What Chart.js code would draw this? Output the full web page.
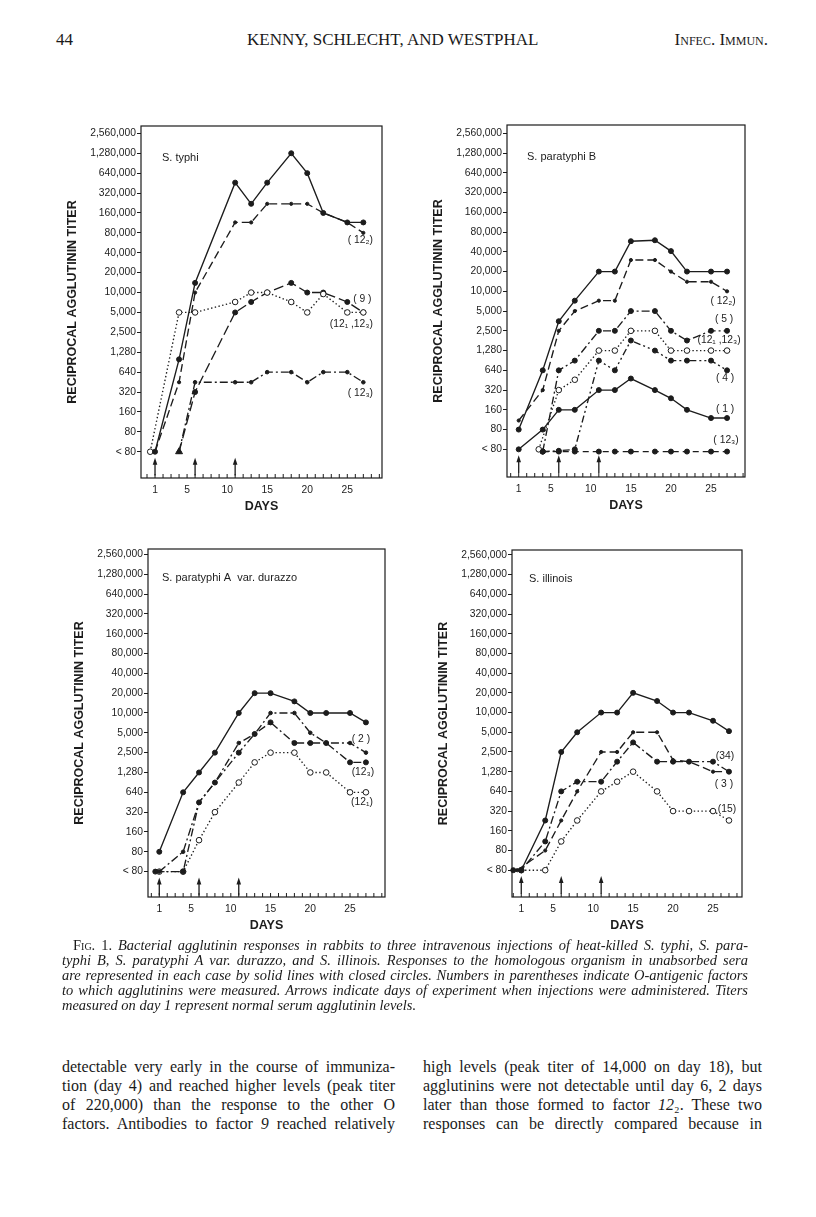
<!DOCTYPE html>
<html>
<head>
<meta charset="utf-8">
<script src="https://cdn.jsdelivr.net/npm/chart.js@4.4.1/dist/chart.umd.min.js"></script>
<style>
  html, body { margin: 0; padding: 0; background: #fff; }
  #page { position: relative; width: 816px; height: 1217px; overflow: hidden; background: #fff; color: #1a1a1a; }
  canvas { position: absolute; }
  .hdr { position: absolute; font-family: "Liberation Serif", "Times New Roman", serif; font-size: 17px; line-height: 18px; white-space: nowrap; }
  .cap { position: absolute; font-family: "Liberation Serif", "Times New Roman", serif; font-style: italic; font-size: 13.2px; line-height: 15px; white-space: nowrap; text-align: justify; text-align-last: justify; }
  .cap.last { text-align: left; text-align-last: left; }
  .sc { font-style: normal; font-variant: small-caps; }
  .up { font-style: normal; }
  .body { position: absolute; font-family: "Liberation Serif", "Times New Roman", serif; font-size: 14.6px; line-height: 19px; white-space: nowrap; text-align: justify; text-align-last: justify; }
  .body i { font-style: italic; }
  .fitting { text-align: left !important; text-align-last: left !important; }
</style>
</head>
<body>
<div id="page">
  <div class="hdr" style="left:56px; top:31px;">44</div>
  <div class="hdr" style="left:247px; top:31px;">KENNY, SCHLECHT, AND WESTPHAL</div>
  <div class="hdr" style="left:648px; top:31px; width:120px; text-align:right; font-variant:small-caps;">Infec. Immun.</div>

  <canvas id="c1"></canvas>
  <canvas id="c2"></canvas>
  <canvas id="c3"></canvas>
  <canvas id="c4"></canvas>

  <div class="cap" style="left:73px; top:938px; width:675px;"><span><span class="sc">Fig</span><span class="up">. 1.</span> Bacterial agglutinin responses in rabbits to three intravenous injections of heat-killed S. typhi, S. para-</span></div>
  <div class="cap" style="left:62px; top:953px; width:686px;"><span>typhi B, S. paratyphi A var. durazzo, and S. illinois. Responses to the homologous organism in unabsorbed sera</span></div>
  <div class="cap" style="left:62px; top:968px; width:686px;"><span>are represented in each case by solid lines with closed circles. Numbers in parentheses indicate O-antigenic factors</span></div>
  <div class="cap" style="left:62px; top:983px; width:686px;"><span>to which agglutinins were measured. Arrows indicate days of experiment when injections were administered. Titers</span></div>
  <div class="cap last" style="left:62px; top:998px; width:686px;"><span>measured on day 1 represent normal serum agglutinin levels.</span></div>

  <div class="body" style="left:62px; top:1057px; width:333px;"><span>detectable very early in the course of immuniza-</span></div>
  <div class="body" style="left:62px; top:1076px; width:333px;"><span>tion (day 4) and reached higher levels (peak titer</span></div>
  <div class="body" style="left:62px; top:1095px; width:333px;"><span>of 220,000) than the response to the other O</span></div>
  <div class="body" style="left:62px; top:1114px; width:333px;"><span>factors. Antibodies to factor <i>9</i> reached relatively</span></div>
  <div class="body" style="left:423px; top:1057px; width:339px;"><span>high levels (peak titer of 14,000 on day 18), but</span></div>
  <div class="body" style="left:423px; top:1076px; width:339px;"><span>agglutinins were not detectable until day 6, 2 days</span></div>
  <div class="body" style="left:423px; top:1095px; width:339px;"><span>later than those formed to factor <i>12</i>₂. These two</span></div>
  <div class="body" style="left:423px; top:1114px; width:339px;"><span>responses can be directly compared because in</span></div>
</div>

<script>
// ---------- axis definitions ----------
const tickLabels = ['< 80','80','160','320','640','1,280','2,500','5,000','10,000','20,000','40,000','80,000','160,000','320,000','640,000','1,280,000','2,560,000'];
const tickTiters = [40, 80, 160, 320, 640, 1280, 2500, 5000, 10000, 20000, 40000, 80000, 160000, 320000, 640000, 1280000, 2560000];
const dayTicks = [1, 5, 10, 15, 20, 25];
const injectionDays = [1, 6, 11];

// ---------- S. typhi ----------
const typhiDays          = [1, 4, 6, 11, 13, 15, 18, 20, 22, 25, 27];
const typhiHomologous    = [40, 1000, 14000, 460000, 220000, 460000, 1280000, 640000, 160000, 115000, 115000];
const typhi12_2          = [40, 450, 10000, 115000, 115000, 220000, 220000, 220000, 160000, 115000, 80000];
const typhi12_1_12_3Days = [0.4, 4, 6, 11, 13, 15, 18, 20, 22, 25, 27];
const typhi12_1_12_3     = [40, 5000, 5000, 7200, 10000, 10000, 7200, 5000, 9500, 5000, 5000];
const typhiLateDays      = [4, 6, 11, 13, 15, 18, 20, 22, 25, 27];
const typhi9             = [40, 320, 5000, 7200, 10000, 14000, 10000, 10000, 7200, 5000];
const typhi12_3          = [40, 450, 450, 450, 640, 640, 450, 640, 640, 450];

// ---------- S. paratyphi B ----------
const parBDays           = [1, 4, 6, 8, 11, 13, 15, 18, 20, 22, 25, 27];
const parBHomologous     = [80, 640, 3500, 7200, 20000, 20000, 58000, 60000, 41000, 20000, 20000, 20000];
const parB12_2           = [110, 320, 2500, 5000, 7200, 7200, 30000, 30000, 20000, 14000, 14000, 10000];
const parB1              = [40, 80, 160, 160, 320, 320, 480, 320, 240, 160, 120, 120];
const parBLateDays       = [4, 6, 8, 11, 13, 15, 18, 20, 22, 25, 27];
const parB5              = [37, 640, 900, 2500, 2500, 5000, 5000, 2500, 1800, 2500, 2500];
const parB4              = [37, 38, 40, 900, 640, 1800, 1280, 900, 900, 900, 640];
const parB12_3           = [37, 37, 37, 37, 37, 37, 37, 37, 37, 37, 37];
const parB12_1_12_3Days  = [3.5, 6, 8, 11, 13, 15, 18, 20, 22, 25, 27];
const parB12_1_12_3      = [40, 320, 460, 1280, 1280, 2500, 2500, 1280, 1280, 1280, 1280];

// ---------- S. paratyphi A var. durazzo ----------
const parADays           = [1, 4, 6, 8, 11, 13, 15, 18, 20, 22, 25, 27];
const parAHomologous     = [80, 640, 1280, 2500, 10000, 20000, 20000, 15000, 10000, 10000, 10000, 7200];
const parA2              = [40, 80, 450, 900, 3500, 4800, 10000, 10000, 5000, 3500, 3500, 2500];
const parA12_1           = [40, 40, 120, 320, 900, 1800, 2500, 2500, 1280, 1280, 640, 640];
const parA12_3Days       = [0.5, 4, 6, 8, 11, 13, 15, 18, 20, 22, 25, 27];
const parA12_3           = [40, 40, 450, 900, 2500, 4800, 7200, 3500, 3500, 3500, 1800, 1800];

// ---------- S. illinois ----------
const illDays            = [1, 4, 6, 8, 11, 13, 15, 18, 20, 22, 25, 27];
const illHomologous      = [40, 230, 2500, 5000, 10000, 10000, 20000, 15000, 10000, 10000, 7500, 5200];
const ill15              = [40, 40, 110, 230, 640, 900, 1280, 640, 320, 320, 320, 230];
const ill34Days          = [0, 1, 4, 6, 8, 11, 13, 15, 18, 20, 22, 25, 27];
const ill34              = [40, 40, 110, 640, 900, 900, 1800, 3500, 1800, 1800, 1800, 1800, 1280];
const ill3Days           = [0.5, 4, 6, 8, 11, 13, 15, 18, 20, 22, 25, 27];
const ill3               = [40, 80, 230, 640, 2500, 2500, 5000, 5000, 1900, 1800, 1280, 1280];

// ---------- text fitting (make justified lines fill naturally) ----------
function fitGroup(selector, maxSize) {
  const els = Array.from(document.querySelectorAll(selector));
  let size = maxSize;
  els.forEach(el => {
    if (el.classList.contains('last')) return;
    el.style.fontSize = maxSize + 'px';
    el.classList.add('fitting');
    const natural = el.firstElementChild.getBoundingClientRect().width;
    el.classList.remove('fitting');
    const target = parseFloat(el.style.width) * 0.975;
    size = Math.min(size, maxSize * target / natural);
  });
  els.forEach(el => { el.style.fontSize = size.toFixed(2) + 'px'; });
}
fitGroup('.cap', 15);
fitGroup('.body', 16);

// ---------- helpers ----------
const INK = '#1c1c1c';

// titer -> position on the doubling (tick-index) axis, piecewise logarithmic between the printed ticks
function toLevel(v) {
  if (v <= tickTiters[0]) return Math.log2(v / tickTiters[0]);
  for (let k = 0; k < tickTiters.length - 1; k++) {
    if (v <= tickTiters[k + 1]) return k + Math.log(v / tickTiters[k]) / Math.log(tickTiters[k + 1] / tickTiters[k]);
  }
  const n = tickTiters.length - 1;
  return n + Math.log2(v / tickTiters[n]);
}

const axisTitleFont = { family: '"Liberation Sans", Arial, sans-serif', size: 12.5, weight: 'bold', lineHeight: 1.2 };
const tickFont = { family: '"Liberation Sans", Arial, sans-serif', size: 10.3 };

const STYLE = {
  solid:   { dash: [],                 pr: 2.5, fill: INK,    bw: 1 },
  dash:    { dash: [8, 4],             pr: 1.6, fill: INK,    bw: 1 },
  longdash:{ dash: [10, 4],            pr: 2.5, fill: INK,    bw: 1 },
  dotted:  { dash: [1.4, 2.4],         pr: 2.8, fill: '#fff', bw: 1 },
  dashdot: { dash: [8, 3, 2, 3],       pr: 1.8, fill: INK,    bw: 1 },
  dashdotbig: { dash: [8, 3, 2, 3],    pr: 2.5, fill: INK,    bw: 1 },
  dashdot2:{ dash: [7, 3, 2, 3, 2, 3], pr: 2.5, fill: INK,    bw: 1 },
  dashed:  { dash: [6, 4],             pr: 2.5, fill: INK,    bw: 1 }
};

function series(days, titers, style, label, offset, extra) {
  const st = STYLE[style];
  return Object.assign({
    data: days.map((d, i) => ({ x: d, y: toLevel(titers[i]) })),
    borderColor: INK,
    borderWidth: 1.35,
    borderDash: st.dash,
    pointRadius: st.pr,
    pointBackgroundColor: st.fill,
    pointBorderColor: INK,
    pointBorderWidth: st.bw,
    pointStyle: 'circle',
    tension: 0,
    fill: false,
    clip: false,
    seriesLabel: label || null,
    labelOffset: offset || [0, 0]
  }, extra || {});
}

const framePlugin = {
  id: 'frame',
  afterDatasetsDraw(chart) {
    const { ctx, chartArea: a, scales: { x, y } } = chart;
    const o = chart.options.plugins.frame;
    ctx.save();
    ctx.strokeStyle = INK;
    ctx.lineWidth = 1.2;
    ctx.setLineDash([]);
    ctx.strokeRect(a.left, a.top, a.right - a.left, a.bottom - a.top);
    // inward day ticks
    ctx.lineWidth = 1;
    for (let d = Math.ceil(x.min); d <= Math.floor(x.max); d++) {
      const px = x.getPixelForValue(d);
      ctx.beginPath();
      ctx.moveTo(px, a.bottom);
      ctx.lineTo(px, a.bottom - 4);
      ctx.stroke();
    }
    // injection arrows
    ctx.fillStyle = INK;
    ctx.lineWidth = 1.3;
    injectionDays.forEach(d => {
      const px = x.getPixelForValue(d);
      const yTail = y.getPixelForValue(-1.2);
      const yTip = y.getPixelForValue(-0.3);
      ctx.beginPath();
      ctx.moveTo(px, yTail);
      ctx.lineTo(px, yTip + 5);
      ctx.stroke();
      ctx.beginPath();
      ctx.moveTo(px, yTip);
      ctx.lineTo(px - 2.3, yTip + 7);
      ctx.lineTo(px + 2.3, yTip + 7);
      ctx.closePath();
      ctx.fill();
    });
    // panel title
    ctx.font = '11px "Liberation Sans", Arial, sans-serif';
    ctx.textAlign = 'left';
    ctx.textBaseline = 'middle';
    ctx.fillText(o.title, a.left + o.titleOffset[0], a.top + o.titleOffset[1]);
    // series labels next to the last point
    ctx.font = '10.3px "Liberation Sans", "DejaVu Sans", Arial, sans-serif';
    ctx.textAlign = 'center';
    chart.data.datasets.forEach((ds, i) => {
      if (!ds.seriesLabel) return;
      const meta = chart.getDatasetMeta(i);
      const pt = meta.data[meta.data.length - 1];
      ctx.fillText(ds.seriesLabel, pt.x + ds.labelOffset[0], pt.y + ds.labelOffset[1]);
    });
    ctx.restore();
  }
};

function makePanel(id, box, range, title, titleOffset, datasets) {
  const cv = document.getElementById(id);
  const W = box.w + 100, H = box.h + 55;
  cv.width = W; cv.height = H;
  cv.style.left = (box.left - 90) + 'px';
  cv.style.top = (box.top - 10) + 'px';
  cv.style.width = W + 'px';
  cv.style.height = H + 'px';
  const titleHalf = axisTitleFont.size * axisTitleFont.lineHeight / 2;
  new Chart(cv, {
    type: 'line',
    data: { datasets },
    plugins: [framePlugin],
    options: {
      responsive: false,
      animation: false,
      events: [],
      layout: { padding: { left: 0, top: 10, right: 10, bottom: 0 } },
      plugins: {
        legend: { display: false },
        tooltip: { enabled: false },
        frame: { title, titleOffset }
      },
      scales: {
        x: {
          type: 'linear',
          min: range.xMin, max: range.xMax,
          afterBuildTicks: s => { s.ticks = dayTicks.map(v => ({ value: v })); },
          afterFit: s => { s.height = 45; },
          grid: { display: false, drawTicks: false },
          border: { display: false },
          ticks: { color: INK, font: tickFont, padding: 6, maxRotation: 0, autoSkip: false, callback: v => String(v) },
          title: { display: true, text: 'DAYS', color: INK, font: axisTitleFont, padding: { top: 0, bottom: 16 - titleHalf } }
        },
        y: {
          type: 'linear',
          min: range.yMin, max: range.yMax,
          afterBuildTicks: s => { s.ticks = tickTiters.map((t, i) => ({ value: i })); },
          afterFit: s => { s.width = 90; },
          grid: { display: true, drawOnChartArea: false, drawTicks: true, tickLength: 4, color: INK, lineWidth: 1 },
          border: { display: false },
          ticks: { color: INK, font: tickFont, padding: 1, autoSkip: false, callback: (v, i) => tickLabels[i] },
          title: { display: true, text: 'RECIPROCAL AGGLUTININ TITER', color: INK, font: axisTitleFont, padding: { top: 22 - titleHalf, bottom: 0 } }
        }
      }
    }
  });
}

// ---------- panels ----------
makePanel('c1', { left: 141, top: 126, w: 241, h: 352 },
  { xMin: -0.75, xMax: 29.33, yMin: -1.32, yMax: 16.37 },
  'S. typhi', [21, 32], [
    series(typhiDays, typhiHomologous, 'solid'),
    series(typhiDays, typhi12_2, 'dash', '( 12₂)', [-3, 7]),
    series(typhi12_1_12_3Days, typhi12_1_12_3, 'dotted', '(12₁ ,12₃)', [-12, 12]),
    series(typhiLateDays, typhi9, 'longdash', '( 9 )', [-1, -13], { pointStyle: c => c.dataIndex === 0 ? 'triangle' : 'circle', pointRadius: c => c.dataIndex === 0 ? 4 : 2.5 }),
    series(typhiLateDays, typhi12_3, 'dashdot', '( 12₃)', [-3, 11])
  ]);

makePanel('c2', { left: 507, top: 125, w: 238, h: 352 },
  { xMin: -0.46, xMax: 29.24, yMin: -1.4, yMax: 16.42 },
  'S. paratyphi B', [20, 32], [
    series(parBDays, parBHomologous, 'solid'),
    series(parBDays, parB12_2, 'dash', '( 12₂)', [-4, 10]),
    series(parBLateDays, parB5, 'dashdotbig', '( 5 )', [-3, -12]),
    series(parB12_1_12_3Days, parB12_1_12_3, 'dotted', '(12₁ ,12₃)', [-8, -10]),
    series(parBLateDays, parB4, 'dashdot2', '( 4 )', [-2, 8]),
    series(parBDays, parB1, 'solid', '( 1 )', [-2, -9]),
    series(parBLateDays, parB12_3, 'dashed', '( 12₃)', [-1, -11])
  ]);

makePanel('c3', { left: 148, top: 549, w: 237, h: 348 },
  { xMin: -0.42, xMax: 29.4, yMin: -1.28, yMax: 16.27 },
  'S. paratyphi A  var. durazzo', [14, 29], [
    series(parADays, parAHomologous, 'solid'),
    series(parADays, parA2, 'dashdot', '( 2 )', [-5, -13]),
    series(parA12_3Days, parA12_3, 'dashdotbig', '(12₃)', [-3, 10]),
    series(parADays, parA12_1, 'dotted', '(12₁)', [-4, 10])
  ]);

makePanel('c4', { left: 512, top: 550, w: 230, h: 347 },
  { xMin: -0.16, xMax: 28.63, yMin: -1.36, yMax: 16.25 },
  'S. illinois', [17, 29], [
    series(illDays, illHomologous, 'solid'),
    series(ill34Days, ill34, 'dashdotbig', '(34)', [-4, -16]),
    series(ill3Days, ill3, 'dash', '( 3 )', [-5, 12]),
    series(illDays, ill15, 'dotted', '(15)', [-2, -11])
  ]);
</script>
</body>
</html>
